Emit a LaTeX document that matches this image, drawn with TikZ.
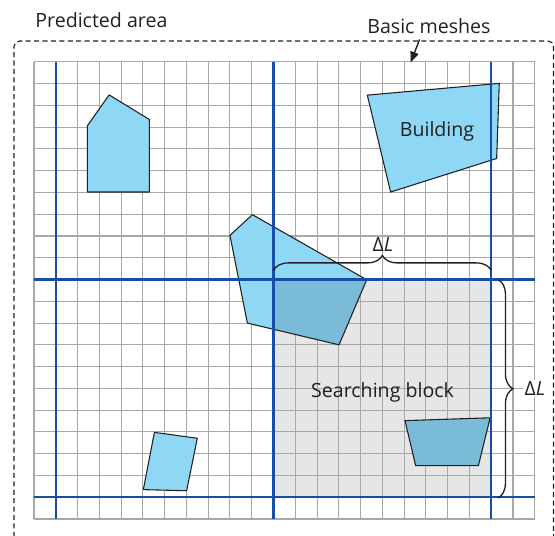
\documentclass[tikz,border=0pt]{standalone}
\usepackage{fontspec}
\setmainfont{Open Sans}
\usetikzlibrary{arrows.meta, decorations.pathreplacing}
\definecolor{ink}{RGB}{35,31,32}
\definecolor{mesh}{RGB}{168,168,168}
\definecolor{blockline}{RGB}{22,78,165}
\definecolor{blockfill}{RGB}{230,230,230}
\definecolor{bldg}{RGB}{142,216,246}
\definecolor{bldgin}{RGB}{122,188,216}

\begin{document}
\begin{tikzpicture}[x=0.5cm, y=0.5cm, line join=round,
    font=\fontsize{12.8}{15}\selectfont,
    lbl/.style={ink, inner sep=0pt, anchor=base},
    house/.style={fill=bldg, draw=ink, line width=0.7pt},
    bigline/.style={blockline, line width=1.4pt},
    bracket/.style={ink, line width=0.85pt, decorate,
                    decoration={brace, amplitude=9.8pt}}]
  \clip (-1.562,-0.768) rectangle (23.93,23.84);

  % ---------- predicted area ----------
  \draw[ink, line width=0.75pt, dash pattern=on 3.3pt off 2.2pt, rounded corners=3.5pt]
        (-0.919,-3) rectangle (23.86,21.955);

  % ---------- searching block + basic meshes ----------
  \fill[blockfill] (11,1) rectangle (21,11);
  \draw[mesh, line width=0.7pt, step=0.5cm] (0,0) grid (23,21);

  % ---------- buildings ----------
  \draw[house] (3.45,19.48) -- (5.3,18.35) -- (5.3,15.02) -- (2.45,15.02) -- (2.45,18.06) -- cycle;
  \draw[house] (15.31,19.47) -- (21.37,20.01) -- (21.25,16.56) -- (16.38,15.02) -- cycle;
  \draw[house] (5.53,3.98) -- (7.5,3.71) -- (7.01,1.3) -- (5.02,1.35) -- cycle;
  \draw[house, fill=bldgin] (17.04,4.52) -- (20.95,4.65) -- (20.41,2.45) -- (17.53,2.45) -- cycle;
  % the one that reaches into the block
  \fill[bldg] (10.03,13.98) -- (9.0,13.03) -- (9.8,9.0) -- (14.01,8.0) -- (15.28,10.99) -- cycle;
  \begin{scope}
    \clip (11,1) rectangle (21,11);
    \fill[bldgin] (10.03,13.98) -- (9.0,13.03) -- (9.8,9.0) -- (14.01,8.0) -- (15.28,10.99) -- cycle;
  \end{scope}
  \draw[house, fill=none] (10.03,13.98) -- (9.0,13.03) -- (9.8,9.0) -- (14.01,8.0) -- (15.28,10.99) -- cycle;

  % ---------- block lines (every 10 meshes) ----------
  \foreach \x in {1,11,21}
    \draw[bigline] (\x,0) -- (\x,21);
  \foreach \y in {1,11}
    \draw[bigline] (0,\y) -- (23,\y);

  % ---------- labels ----------
  \node[lbl, anchor=base west] (area) at (0.05,22.57) {Predicted area};
  \node[lbl] (meshes) at (18.14,22.28) {Basic meshes};
  \node[lbl] (building) at (18.51,17.55) {Building};
  \node[lbl] (search) at (16.01,5.59) {Searching block};
  \node[lbl] (dltop) at (16.03,12.31) {Δ\textit{L}};
  \node[lbl, fill=white, inner sep=1pt] (dlright) at (23.01,5.67) {Δ\textit{L}};

  % ---------- braces ----------
  \coordinate (topleft) at (11,11.42);
  \coordinate (topright) at (21,11.42);
  \coordinate (rightup) at (21.31,11);
  \coordinate (rightdown) at (21.31,0.97);
  \draw[bracket] (topleft) -- (topright);
  \draw[bracket] (rightup) -- (rightdown);

  % ---------- pointer to the meshes ----------
  \coordinate (meshtip) at (17.3,20.97);
  \draw[ink, line width=0.9pt, -{Triangle[length=7pt, width=5.5pt]}]
        ([shift={(-0.43,-0.23)}]meshes.south) -- (meshtip);
\end{tikzpicture}
\end{document}
